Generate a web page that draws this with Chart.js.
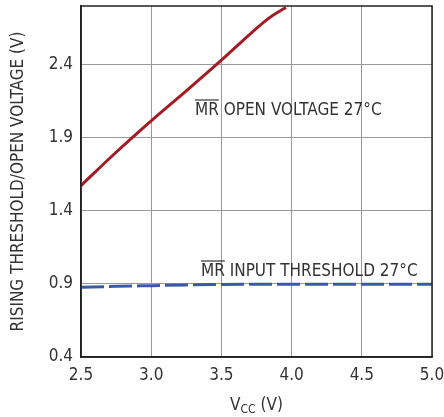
<!DOCTYPE html>
<html>
<head>
<meta charset="utf-8">
<script src="https://cdn.jsdelivr.net/npm/chart.js@4"></script>
<style>
  html, body { margin: 0; padding: 0; background: #fff; }
  #wrap { width: 444px; height: 417px; }
</style>
</head>
<body>
<div id="wrap"><canvas id="chart"></canvas></div>
<script>
const FONT = '"Liberation Sans Narrow", "DejaVu Sans Condensed", "Liberation Sans", sans-serif';
const TEXT = '#333';

// values
const vccOpen = [2.5, 2.75, 3.0, 3.25, 3.5, 3.7, 3.8, 3.87, 3.92, 3.96];
const openVoltage = [1.572, 1.80, 2.015, 2.22, 2.43, 2.605, 2.688, 2.738, 2.768, 2.79];
const vccInput = [2.5, 2.75, 3.0, 3.25, 3.5, 4.0, 4.5, 5.0];
const inputThreshold = [0.877, 0.883, 0.888, 0.893, 0.896, 0.898, 0.898, 0.898];
const xTicks = [2.5, 3.0, 3.5, 4.0, 4.5, 5.0];
const yTicks = [0.4, 0.9, 1.4, 1.9, 2.4];

const toPts = (xs, ys) => xs.map((x, i) => ({ x, y: ys[i] }));

// labels with overlined MR, and the x title with subscript
const textPlugin = {
  id: 'texts',
  afterDraw(chart) {
    const ctx = chart.ctx;
    const x = chart.scales.x;
    ctx.save();
    ctx.fillStyle = TEXT;
    ctx.strokeStyle = TEXT;
    ctx.textBaseline = 'alphabetic';

    function label(px, py, rest) {
      ctx.font = '17px ' + FONT;
      ctx.textAlign = 'left';
      const mr = 'MR';
      const w = ctx.measureText(mr).width;
      ctx.fillText(mr, px, py);
      ctx.lineWidth = 1.2;
      ctx.beginPath();
      ctx.moveTo(px, py - 15);
      ctx.lineTo(px + w, py - 15);
      ctx.stroke();
      ctx.fillText(rest, px + w, py);
    }
    label(195, 115, ' OPEN VOLTAGE 27°C');
    label(201, 276, ' INPUT THRESHOLD 27°C');

    // x axis title: VCC (V)
    const a = 'V', sub = 'CC', b = ' (V)';
    ctx.font = '17px ' + FONT;
    const wa = ctx.measureText(a).width, wb = ctx.measureText(b).width;
    ctx.font = '12px ' + FONT;
    const ws = ctx.measureText(sub).width;
    const total = wa + ws + wb;
    let px = (x.left + x.right) / 2 - total / 2;
    const py = 410;
    ctx.textAlign = 'left';
    ctx.font = '17px ' + FONT;
    ctx.fillText(a, px, py);
    px += wa;
    ctx.font = '12px ' + FONT;
    ctx.fillText(sub, px, py + 3);
    px += ws;
    ctx.font = '17px ' + FONT;
    ctx.fillText(b, px, py);
    ctx.restore();
  }
};

new Chart(document.getElementById('chart'), {
  type: 'scatter',
  data: {
    datasets: [
      {
        label: 'MR OPEN VOLTAGE 27°C',
        data: toPts(vccOpen, openVoltage),
        showLine: true,
        borderColor: '#a31c24',
        borderWidth: 3,
        pointRadius: 0,
        cubicInterpolationMode: 'monotone',
        fill: false
      },
      {
        label: 'MR INPUT THRESHOLD 27°C',
        data: toPts(vccInput, inputThreshold),
        showLine: true,
        borderColor: '#3a59a8',
        borderWidth: 3,
        borderDash: [23, 5],
        pointRadius: 0,
        cubicInterpolationMode: 'monotone',
        fill: false
      }
    ]
  },
  options: {
    responsive: true,
    maintainAspectRatio: false,
    animation: false,
    layout: { padding: { top: 6, right: 12, bottom: 0, left: 0 } },
    plugins: { legend: { display: false }, tooltip: { enabled: false } },
    scales: {
      x: {
        type: 'linear',
        min: 2.5,
        max: 5.0,
        afterBuildTicks: ax => { ax.ticks = xTicks.map(v => ({ value: v })); },
        afterFit: ax => { ax.height = 60; ax.paddingLeft = 0; ax.paddingRight = 0; },
        ticks: {
          color: TEXT,
          font: { family: FONT, size: 17 },
          padding: 8,
          maxRotation: 0,
          callback: v => v.toFixed(1)
        },
        grid: { color: '#999', lineWidth: 1, drawTicks: false },
        border: { color: '#222', width: 1.5 }
      },
      y: {
        type: 'linear',
        min: 0.4,
        max: 2.8,
        afterBuildTicks: ax => { ax.ticks = yTicks.map(v => ({ value: v })); },
        afterFit: ax => { ax.width = 81; ax.paddingTop = 0; ax.paddingBottom = 0; },
        ticks: {
          color: TEXT,
          font: { family: FONT, size: 17 },
          padding: 8,
          callback: v => v.toFixed(1)
        },
        title: {
          display: true,
          text: 'RISING THRESHOLD/OPEN VOLTAGE (V)',
          color: TEXT,
          font: { family: FONT, size: 17 },
          padding: { top: 8, bottom: 10 }
        },
        grid: { color: '#999', lineWidth: 1, drawTicks: false },
        border: { color: '#222', width: 1.5 }
      }
    }
  },
  plugins: [textPlugin, {
    id: 'frame',
    afterDatasetsDraw(chart) {
      const { ctx, chartArea: a } = chart;
      ctx.save();
      ctx.strokeStyle = '#222';
      ctx.lineWidth = 1.5;
      ctx.strokeRect(a.left, a.top, a.right - a.left, a.bottom - a.top);
      ctx.restore();
    }
  }]
});
</script>
</body>
</html>
